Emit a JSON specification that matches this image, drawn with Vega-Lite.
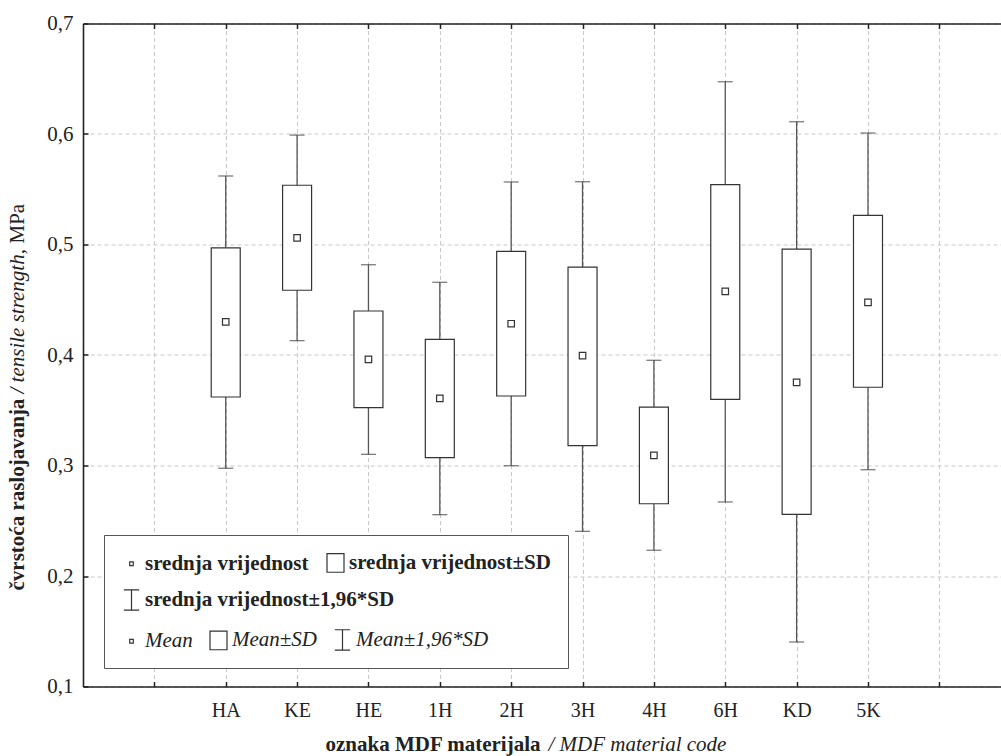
{
  "$schema": "https://vega.github.io/schema/vega-lite/v6.json",
  "width": 918,
  "height": 663,
  "autosize": {"type": "none"},
  "padding": {"left": 83, "top": 23.5, "right": 0, "bottom": 69.5},
  "background": "white",
  "config": {
    "view": {"stroke": null},
    "font": "Liberation Serif",
    "axis": {
      "labelFont": "Liberation Serif",
      "titleFont": "Liberation Serif",
      "domainColor": "#222",
      "domainWidth": 1.6,
      "tickColor": "#222",
      "tickWidth": 1.5,
      "tickSize": -5,
      "labelColor": "#222",
      "titleColor": "#222"
    },
    "legend": {"labelFont": "Liberation Serif", "titleFont": "Liberation Serif"}
  },
  "datasets": {
    "mdf": [
      {"code": "HA", "lo": 0.2975, "boxLo": 0.362, "mean": 0.430, "boxHi": 0.497, "hi": 0.562},
      {"code": "KE", "lo": 0.413, "boxLo": 0.4586, "mean": 0.506, "boxHi": 0.5536, "hi": 0.599},
      {"code": "HE", "lo": 0.3101, "boxLo": 0.3523, "mean": 0.3961, "boxHi": 0.4398, "hi": 0.4817},
      {"code": "1H", "lo": 0.2555, "boxLo": 0.3071, "mean": 0.3608, "boxHi": 0.4142, "hi": 0.4658},
      {"code": "2H", "lo": 0.2998, "boxLo": 0.3629, "mean": 0.4283, "boxHi": 0.4938, "hi": 0.5566},
      {"code": "3H", "lo": 0.2404, "boxLo": 0.3179, "mean": 0.3994, "boxHi": 0.4796, "hi": 0.5568},
      {"code": "4H", "lo": 0.2233, "boxLo": 0.2654, "mean": 0.3092, "boxHi": 0.3529, "hi": 0.3952},
      {"code": "6H", "lo": 0.2670, "boxLo": 0.3599, "mean": 0.4576, "boxHi": 0.5541, "hi": 0.6473},
      {"code": "KD", "lo": 0.1403, "boxLo": 0.2558, "mean": 0.3753, "boxHi": 0.4959, "hi": 0.6111},
      {"code": "5K", "lo": 0.2962, "boxLo": 0.3708, "mean": 0.4477, "boxHi": 0.5264, "hi": 0.6009}
    ],
    "legA": [
      {"item": "srednja vrijednost"},
      {"item": "srednja vrijednost±SD"}
    ],
    "legB": [
      {"item": "srednja vrijednost±1,96*SD"}
    ],
    "legC": [
      {"item": "Mean"},
      {"item": "Mean±SD"},
      {"item": "Mean±1,96*SD"}
    ]
  },
  "resolve": {
    "scale": {"shape": "independent"},
    "axis": {"x": "independent", "y": "independent"}
  },
  "layer": [
    {
      "data": {"name": "mdf"},
      "mark": {"type": "rule", "color": "#555", "strokeWidth": 1.3},
      "encoding": {
        "x": {
          "field": "code",
          "type": "nominal",
          "sort": null,
          "scale": {
            "type": "point",
            "domain": ["_a", "HA", "KE", "HE", "1H", "2H", "3H", "4H", "6H", "KD", "5K", "_b"],
            "padding": 0.932,
            "align": 0.5365
          },
          "axis": {
            "orient": "bottom",
            "labelExpr": "indexof(['_a','_b'], datum.value) >= 0 ? '' : datum.value",
            "labelFontSize": 20,
            "labelAngle": 0,
            "labelPadding": 19,
            "grid": true,
            "gridColor": "#c8c8c8",
            "gridDash": [4, 3],
            "gridWidth": 1,
            "title": "oznaka MDF materijala",
            "titleFontSize": 21,
            "titleFontWeight": "bold",
            "titleX": 242,
            "titleY": 63.5,
            "titleAlign": "left",
            "titleBaseline": "alphabetic"
          }
        },
        "y": {
          "field": "lo",
          "type": "quantitative",
          "scale": {"domain": [0.1, 0.7], "nice": false, "zero": false},
          "axis": {
            "orient": "left",
            "values": [0.1, 0.2, 0.3, 0.4, 0.5, 0.6, 0.7],
            "labelExpr": "replace(format(datum.value, '.1f'), '.', ',')",
            "labelFontSize": 21,
            "labelPadding": 15,
            "grid": true,
            "gridColor": "#c8c8c8",
            "gridDash": [4, 3],
            "gridWidth": 1,
            "title": "čvrstoća raslojavanja",
            "titleFontSize": 21,
            "titleFontWeight": "bold",
            "titleAngle": 270,
            "titleX": -60,
            "titleY": 566.5,
            "titleAlign": "left",
            "titleBaseline": "alphabetic"
          }
        },
        "y2": {"field": "hi"}
      }
    },
    {
      "data": {"name": "mdf"},
      "mark": {"type": "tick", "color": "#444", "size": 15, "thickness": 1.3, "orient": "horizontal"},
      "encoding": {
        "x": {
          "field": "code",
          "type": "nominal",
          "axis": {
            "orient": "top",
            "labels": false,
            "grid": false,
            "domain": true,
            "ticks": true,
            "title": "/ MDF material code",
            "titleFontSize": 21,
            "titleFontStyle": "italic",
            "titleFontWeight": "normal",
            "titleX": 465,
            "titleY": 726.5,
            "titleAlign": "left",
            "titleBaseline": "alphabetic",
            "titleAngle": 0
          }
        },
        "y": {
          "field": "lo",
          "type": "quantitative",
          "axis": {
            "orient": "right",
            "domain": false,
            "ticks": false,
            "labels": false,
            "grid": false,
            "title": "/ tensile strength,",
            "titleFontSize": 21,
            "titleFontStyle": "italic",
            "titleFontWeight": "normal",
            "titleAngle": 270,
            "titleX": -978,
            "titleY": 369.5,
            "titleAlign": "left",
            "titleBaseline": "alphabetic"
          }
        }
      }
    },
    {
      "data": {"name": "mdf"},
      "mark": {"type": "tick", "color": "#444", "size": 15, "thickness": 1.3, "orient": "horizontal"},
      "encoding": {
        "x": {"field": "code", "type": "nominal", "axis": null},
        "y": {
          "field": "hi",
          "type": "quantitative",
          "axis": {
            "orient": "right",
            "domain": false,
            "ticks": false,
            "labels": false,
            "grid": false,
            "title": "MPa",
            "titleFontSize": 21,
            "titleFontStyle": "normal",
            "titleFontWeight": "normal",
            "titleAngle": 270,
            "titleX": -978,
            "titleY": 219.5,
            "titleAlign": "left",
            "titleBaseline": "alphabetic"
          }
        }
      }
    },
    {
      "data": {"name": "mdf"},
      "mark": {"type": "bar", "width": 29, "fill": "white", "stroke": "#333", "strokeWidth": 1.2},
      "encoding": {
        "x": {"field": "code", "type": "nominal", "axis": null},
        "y": {"field": "boxLo", "type": "quantitative", "axis": null},
        "y2": {"field": "boxHi"}
      }
    },
    {
      "data": {"name": "mdf"},
      "mark": {"type": "point", "shape": "square", "size": 42, "filled": true, "fill": "white", "stroke": "#333", "strokeWidth": 1.2, "opacity": 1},
      "encoding": {
        "x": {"field": "code", "type": "nominal", "axis": null},
        "y": {"field": "mean", "type": "quantitative", "axis": null}
      }
    },
    {
      "data": {"name": "legA"},
      "mark": {"type": "point", "opacity": 0, "filled": false, "color": "#333", "strokeWidth": 1.2},
      "encoding": {
        "shape": {
          "field": "item",
          "type": "nominal",
          "sort": null,
          "scale": {
            "domain": ["srednja vrijednost", "srednja vrijednost±SD"],
            "range": ["M-0.21,-0.21H0.21V0.21H-0.21Z", "M-1,-1.1H1V1.1H-1Z"]
          },
          "legend": {
            "orient": "none",
            "legendX": 21,
            "legendY": 511.5,
            "columns": 2,
            "direction": "horizontal",
            "title": " ",
            "titleOrient": "bottom",
            "titleFont": "Liberation Serif",
            "titleFontSize": 20,
            "titlePadding": 56,
            "padding": 17,
            "fillColor": "white",
            "strokeColor": "#555",
            "labelFont": "Liberation Serif",
            "labelFontSize": 21,
            "labelFontWeight": "bold",
            "labelColor": "#222",
            "labelOffset": 3,
            "labelLimit": 600,
            "columnPadding": 15,
            "symbolSize": 289,
            "symbolStrokeColor": "#333",
            "symbolStrokeWidth": 1.2,
            "symbolFillColor": "white",
            "symbolOpacity": 1,
            "zindex": 1
          }
        }
      }
    },
    {
      "data": {"name": "legB"},
      "mark": {"type": "point", "opacity": 0, "filled": false, "color": "#333", "strokeWidth": 1.2},
      "encoding": {
        "shape": {
          "field": "item",
          "type": "nominal",
          "sort": null,
          "scale": {
            "domain": ["srednja vrijednost±1,96*SD"],
            "range": ["M-0.9,-1.2H0.9M0,-1.2V1.2M-0.9,1.2H0.9"]
          },
          "legend": {
            "orient": "none",
            "legendX": 38,
            "legendY": 566,
            "direction": "horizontal",
            "title": null,
            "padding": 0,
            "labelFont": "Liberation Serif",
            "labelFontSize": 21,
            "labelFontWeight": "bold",
            "labelColor": "#222",
            "labelOffset": 3,
            "labelLimit": 600,
            "symbolSize": 289,
            "symbolStrokeColor": "#333",
            "symbolStrokeWidth": 1.2,
            "symbolFillColor": "white",
            "symbolOpacity": 1,
            "zindex": 2
          }
        }
      }
    },
    {
      "data": {"name": "legC"},
      "mark": {"type": "point", "opacity": 0, "filled": false, "color": "#333", "strokeWidth": 1.2},
      "encoding": {
        "shape": {
          "field": "item",
          "type": "nominal",
          "sort": null,
          "scale": {
            "domain": ["Mean", "Mean±SD", "Mean±1,96*SD"],
            "range": ["M-0.21,-0.21H0.21V0.21H-0.21Z", "M-1,-1.1H1V1.1H-1Z", "M-0.9,-1.2H0.9M0,-1.2V1.2M-0.9,1.2H0.9"]
          },
          "legend": {
            "orient": "none",
            "legendX": 38,
            "legendY": 605.5,
            "columns": 3,
            "direction": "horizontal",
            "title": null,
            "padding": 0,
            "labelFont": "Liberation Serif",
            "labelFontSize": 21,
            "labelFontStyle": "italic",
            "labelFontWeight": "normal",
            "labelColor": "#222",
            "labelOffset": 3,
            "labelLimit": 600,
            "columnPadding": 14,
            "symbolSize": 289,
            "symbolStrokeColor": "#333",
            "symbolStrokeWidth": 1.2,
            "symbolFillColor": "white",
            "symbolOpacity": 1,
            "zindex": 3
          }
        }
      }
    }
  ]
}
